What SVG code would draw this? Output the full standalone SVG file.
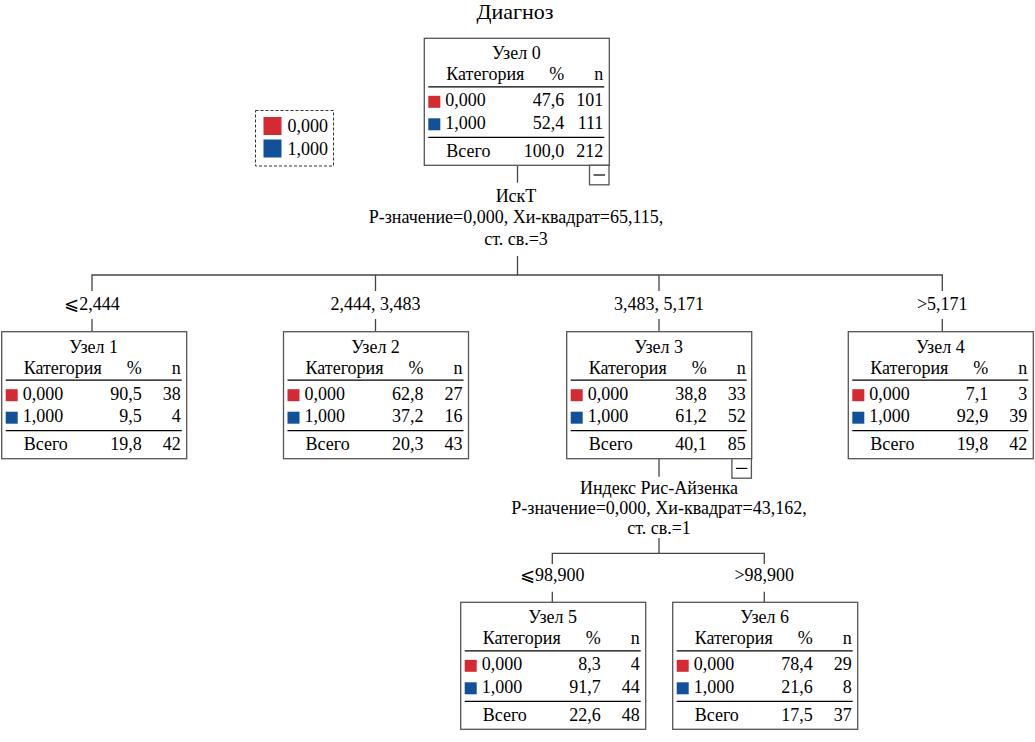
<svg xmlns="http://www.w3.org/2000/svg" width="1035" height="742" viewBox="0 0 1035 742" font-family="Liberation Serif, Tinos, DejaVu Serif, serif" font-size="18">
<style>
text{fill:#000}
.t{font-size:22px}
.box{fill:#fff;stroke:#555;stroke-width:1.3}
.sep{stroke:#000;stroke-width:1.2}
.c{stroke:#444;stroke-width:1.3;fill:none}
.r{fill:#d42a33}
.b{fill:#12519a}
.m{text-anchor:middle}
.e{text-anchor:end}
</style>
<defs>
<g id="frame">
<rect class="box" x="0" y="0" width="185" height="127"/>
<text x="22" y="42">Категория</text>
<text class="e" x="140" y="42">%</text>
<text class="e" x="179" y="42">n</text>
<line class="sep" x1="4" y1="48.5" x2="180" y2="48.5"/>
<rect class="r" x="4" y="57.5" width="12" height="12"/>
<text x="21" y="68">0,000</text>
<rect class="b" x="4" y="80" width="12" height="12"/>
<text x="21" y="90.5">1,000</text>
<line class="sep" x1="4" y1="99" x2="180" y2="99"/>
<text x="22" y="118.3">Всего</text>
</g>
<g id="minus">
<rect class="box" x="0" y="0" width="19.5" height="19.5"/>
<line x1="4" y1="9.7" x2="15.5" y2="9.7" stroke="#000" stroke-width="1.2"/>
</g>
</defs>

<text class="t m" x="515" y="19">Диагноз</text>

<g id="legend">
<rect x="255.5" y="110.5" width="78" height="55.5" fill="#fff" stroke="#333" stroke-width="1" stroke-dasharray="3,2"/>
<rect class="r" x="263.5" y="117" width="18" height="18"/>
<rect class="b" x="263.5" y="139.5" width="18" height="18"/>
<text x="287.5" y="132">0,000</text>
<text x="287.5" y="154.5">1,000</text>
</g>

<g id="connectors">
<line class="c" x1="517.5" y1="165.7" x2="517.5" y2="182.7"/>
<text class="m" x="516" y="201.5">ИскТ</text>
<text class="m" x="516" y="223">Р-значение=0,000, Хи-квадрат=65,115,</text>
<text class="m" x="516" y="244.5">ст. св.=3</text>
<line class="c" x1="517.5" y1="256" x2="517.5" y2="275"/>
<polyline class="c" points="92,291 92,275 942.3,275 942.3,291"/>
<line class="c" x1="375.5" y1="275" x2="375.5" y2="291"/>
<line class="c" x1="659" y1="275" x2="659" y2="291"/>
<text class="m" x="92" y="310">⩽2,444</text>
<text class="m" x="375.5" y="310">2,444, 3,483</text>
<text class="m" x="659" y="310">3,483, 5,171</text>
<text class="m" x="942.3" y="310">&gt;5,171</text>
<line class="c" x1="92" y1="319" x2="92" y2="331.7"/>
<line class="c" x1="375.5" y1="319" x2="375.5" y2="331.7"/>
<line class="c" x1="659" y1="319" x2="659" y2="331.7"/>
<line class="c" x1="942.3" y1="319" x2="942.3" y2="331.7"/>
<line class="c" x1="659" y1="458.3" x2="659" y2="476.7"/>
<text class="m" x="659" y="494">Индекс Рис-Айзенка</text>
<text class="m" x="659" y="514">Р-значение=0,000, Хи-квадрат=43,162,</text>
<text class="m" x="659" y="534">ст. св.=1</text>
<line class="c" x1="659" y1="538" x2="659" y2="553.3"/>
<polyline class="c" points="552.3,564 552.3,553.3 764.3,553.3 764.3,564"/>
<text class="m" x="552.3" y="581">⩽98,900</text>
<text class="m" x="764.3" y="581">&gt;98,900</text>
<line class="c" x1="552.3" y1="591.7" x2="552.3" y2="602.3"/>
<line class="c" x1="764.3" y1="591.7" x2="764.3" y2="602.3"/>
</g>

<g id="node0" transform="translate(424.3,38.3)">
<use href="#frame"/>
<text class="m" x="92" y="21">Узел 0</text>
<text class="e" x="140" y="68">47,6</text><text class="e" x="179" y="68">101</text>
<text class="e" x="140" y="90.5">52,4</text><text class="e" x="179" y="90.5">111</text>
<text class="e" x="140" y="118.3">100,0</text><text class="e" x="179" y="118.3">212</text>
<use href="#minus" x="165.2" y="127"/>
</g>

<g id="node1" transform="translate(1.7,331.7)">
<use href="#frame"/>
<text class="m" x="92" y="21">Узел 1</text>
<text class="e" x="140" y="68">90,5</text><text class="e" x="179" y="68">38</text>
<text class="e" x="140" y="90.5">9,5</text><text class="e" x="179" y="90.5">4</text>
<text class="e" x="140" y="118.3">19,8</text><text class="e" x="179" y="118.3">42</text>
</g>

<g id="node2" transform="translate(283.5,331.7)">
<use href="#frame"/>
<text class="m" x="92" y="21">Узел 2</text>
<text class="e" x="140" y="68">62,8</text><text class="e" x="179" y="68">27</text>
<text class="e" x="140" y="90.5">37,2</text><text class="e" x="179" y="90.5">16</text>
<text class="e" x="140" y="118.3">20,3</text><text class="e" x="179" y="118.3">43</text>
</g>

<g id="node3" transform="translate(566.7,331.7)">
<use href="#frame"/>
<text class="m" x="92" y="21">Узел 3</text>
<text class="e" x="140" y="68">38,8</text><text class="e" x="179" y="68">33</text>
<text class="e" x="140" y="90.5">61,2</text><text class="e" x="179" y="90.5">52</text>
<text class="e" x="140" y="118.3">40,1</text><text class="e" x="179" y="118.3">85</text>
<use href="#minus" x="165.2" y="127"/>
</g>

<g id="node4" transform="translate(848.3,331.7)">
<use href="#frame"/>
<text class="m" x="92" y="21">Узел 4</text>
<text class="e" x="140" y="68">7,1</text><text class="e" x="179" y="68">3</text>
<text class="e" x="140" y="90.5">92,9</text><text class="e" x="179" y="90.5">39</text>
<text class="e" x="140" y="118.3">19,8</text><text class="e" x="179" y="118.3">42</text>
</g>

<g id="node5" transform="translate(460.7,602.3)">
<use href="#frame"/>
<text class="m" x="92" y="21">Узел 5</text>
<text class="e" x="140" y="68">8,3</text><text class="e" x="179" y="68">4</text>
<text class="e" x="140" y="90.5">91,7</text><text class="e" x="179" y="90.5">44</text>
<text class="e" x="140" y="118.3">22,6</text><text class="e" x="179" y="118.3">48</text>
</g>

<g id="node6" transform="translate(672.7,602.3)">
<use href="#frame"/>
<text class="m" x="92" y="21">Узел 6</text>
<text class="e" x="140" y="68">78,4</text><text class="e" x="179" y="68">29</text>
<text class="e" x="140" y="90.5">21,6</text><text class="e" x="179" y="90.5">8</text>
<text class="e" x="140" y="118.3">17,5</text><text class="e" x="179" y="118.3">37</text>
</g>
</svg>
